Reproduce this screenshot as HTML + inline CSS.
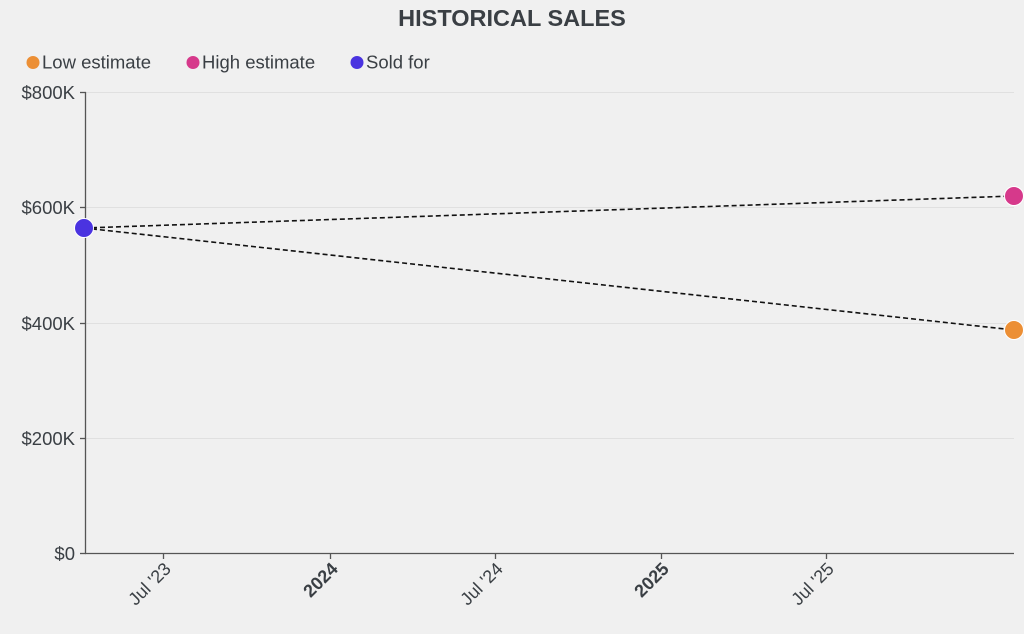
<!DOCTYPE html>
<html><head><style>
html,body{margin:0;padding:0;background:#f0f0f0;}
svg{display:block;font-family:"Liberation Sans",sans-serif;}
</style></head><body>
<svg width="1024" height="634" viewBox="0 0 1024 634">
<rect width="1024" height="634" fill="#f0f0f0"/>
<text x="512" y="26" text-anchor="middle" font-size="23.5" font-weight="bold" fill="#3a3f44">HISTORICAL SALES</text>
<g font-size="18.5" fill="#3a3f44">
<circle cx="33" cy="62.5" r="6.5" fill="#ec8f35"/><text x="42" y="68.5">Low estimate</text>
<circle cx="193" cy="62.5" r="6.5" fill="#d6398b"/><text x="202" y="68.5">High estimate</text>
<circle cx="357" cy="62.5" r="6.5" fill="#4a33e0"/><text x="366" y="68.5">Sold for</text>
</g>
<g stroke="#e0e0e0" stroke-width="1">
<line x1="86" y1="92.5" x2="1014" y2="92.5"/>
<line x1="86" y1="207.5" x2="1014" y2="207.5"/>
<line x1="86" y1="323.5" x2="1014" y2="323.5"/>
<line x1="86" y1="438.5" x2="1014" y2="438.5"/>
</g>
<g stroke="#555" stroke-width="1.3">
<line x1="85.5" y1="92" x2="85.5" y2="554"/>
<line x1="85" y1="553.5" x2="1014" y2="553.5"/>
<line x1="80" y1="92.5" x2="86" y2="92.5"/>
<line x1="80" y1="207.5" x2="86" y2="207.5"/>
<line x1="80" y1="323.5" x2="86" y2="323.5"/>
<line x1="80" y1="438.5" x2="86" y2="438.5"/>
<line x1="80" y1="553.5" x2="86" y2="553.5"/>
<line x1="163.5" y1="553" x2="163.5" y2="559"/>
<line x1="330.5" y1="553" x2="330.5" y2="559"/>
<line x1="495.5" y1="553" x2="495.5" y2="559"/>
<line x1="661.5" y1="553" x2="661.5" y2="559"/>
<line x1="826.5" y1="553" x2="826.5" y2="559"/>
</g>
<g font-size="18.5" fill="#3a3f44" text-anchor="end">
<text x="75" y="99">$800K</text>
<text x="75" y="214">$600K</text>
<text x="75" y="330">$400K</text>
<text x="75" y="445">$200K</text>
<text x="75" y="560">$0</text>
</g>
<g font-size="18" fill="#3a3f44" text-anchor="end">
<text transform="translate(172,570) rotate(-45)">Jul '23</text>
<text transform="translate(339,570) rotate(-45)" font-weight="bold">2024</text>
<text transform="translate(504,570) rotate(-45)">Jul '24</text>
<text transform="translate(670,570) rotate(-45)" font-weight="bold">2025</text>
<text transform="translate(835,570) rotate(-45)">Jul '25</text>
</g>
<g stroke="#111" stroke-width="1.6" stroke-dasharray="5,3" fill="none">
<line x1="84" y1="228" x2="1014" y2="196"/>
<line x1="84" y1="228" x2="1014" y2="330"/>
</g>
<circle cx="1014" cy="196" r="9.5" fill="#d6398b" stroke="#fff" stroke-width="1"/>
<circle cx="1014" cy="330" r="9.5" fill="#ec8f35" stroke="#fff" stroke-width="1"/>
<circle cx="84" cy="228" r="9.5" fill="#4a33e0" stroke="#fff" stroke-width="1"/>
</svg>
</body></html>
